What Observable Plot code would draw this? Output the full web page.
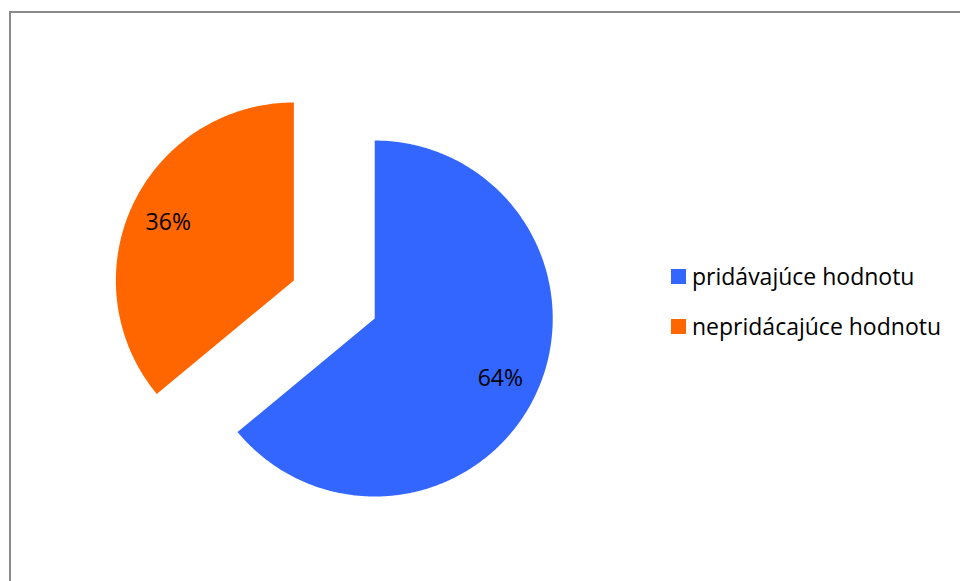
<!DOCTYPE html>
<html>
<head>
<meta charset="utf-8">
<script src="https://cdn.jsdelivr.net/npm/d3@7"></script>
<script src="https://cdn.jsdelivr.net/npm/@observablehq/plot@0.6"></script>
<style>
  html, body { margin: 0; padding: 0; background: #fff; }
  #wrap { position: relative; width: 960px; height: 581px; overflow: hidden; }
  #frame { position: absolute; left: 9px; top: 11px; width: 1000px; height: 1000px;
           border-left: 2px solid #8a8a8a; border-top: 2px solid #8a8a8a; box-sizing: border-box; }
  #chart { position: absolute; left: 0; top: 0; }
  .legend { position: absolute; left: 671px; font-family: "Open Sans", sans-serif; font-size: 23px; color: #000; }
  .legend div { position: absolute; white-space: nowrap; display: flex; align-items: center; }
  .legend span.sw { display: inline-block; width: 15px; height: 15px; margin-right: 6px; }
</style>
</head>
<body>
<div id="wrap">
  <div id="frame"></div>
  <div id="chart"></div>
  <div class="legend" id="legend"></div>
</div>
<script>
const categories = ["pridávajúce hodnotu", "nepridácajúce hodnotu"];
const values = [64, 36];
const labels = ["64%", "36%"];
const colors = ["#3366ff", "#ff6600"];

const explode = 0.251;
const labelRadius = 0.78;
const total = d3.sum(values);

// build slice polygons from the values
let acc = 0;
const slices = values.map((v, i) => {
  const a0 = acc / total * 2 * Math.PI;
  acc += v;
  const a1 = acc / total * 2 * Math.PI;
  const mid = (a0 + a1) / 2;
  const ox = explode * Math.sin(mid), oy = explode * Math.cos(mid);
  const pts = [{x: ox, y: oy}];
  const n = Math.max(2, Math.ceil((a1 - a0) / (Math.PI / 360)));
  for (let k = 0; k <= n; k++) {
    const a = a0 + (a1 - a0) * k / n;
    pts.push({x: ox + Math.sin(a), y: oy + Math.cos(a)});
  }
  pts.push({x: ox, y: oy});
  return {cat: categories[i], color: colors[i], pts,
          lx: ox + labelRadius * Math.sin(mid), ly: oy + labelRadius * Math.cos(mid), label: labels[i]};
});

const cx = 333.8, cy = 299, R = 178;
const chart = Plot.plot({
  width: 960, height: 581,
  margin: 0,
  x: {domain: [-1, 1], range: [cx - R, cx + R], axis: null},
  y: {domain: [-1, 1], range: [cy + R, cy - R], axis: null},
  marks: [
    ...slices.map(s => Plot.line(s.pts, {x: "x", y: "y", fill: s.color, stroke: "none"})),
    Plot.text(slices, {x: "lx", y: "ly", text: "label", fontSize: 23, fill: "#000", dy: 1,
                       fontFamily: "Open Sans, sans-serif"})
  ]
});
chart.style.background = "transparent";
document.getElementById("chart").appendChild(chart);

const legend = document.getElementById("legend");
const tops = [266, 316];
categories.forEach((c, i) => {
  const row = document.createElement("div");
  row.style.top = (tops[i] - 6) + "px";
  row.innerHTML = `<span class="sw" style="background:${colors[i]}"></span><span>${c}</span>`;
  legend.appendChild(row);
});
</script>
</body>
</html>
